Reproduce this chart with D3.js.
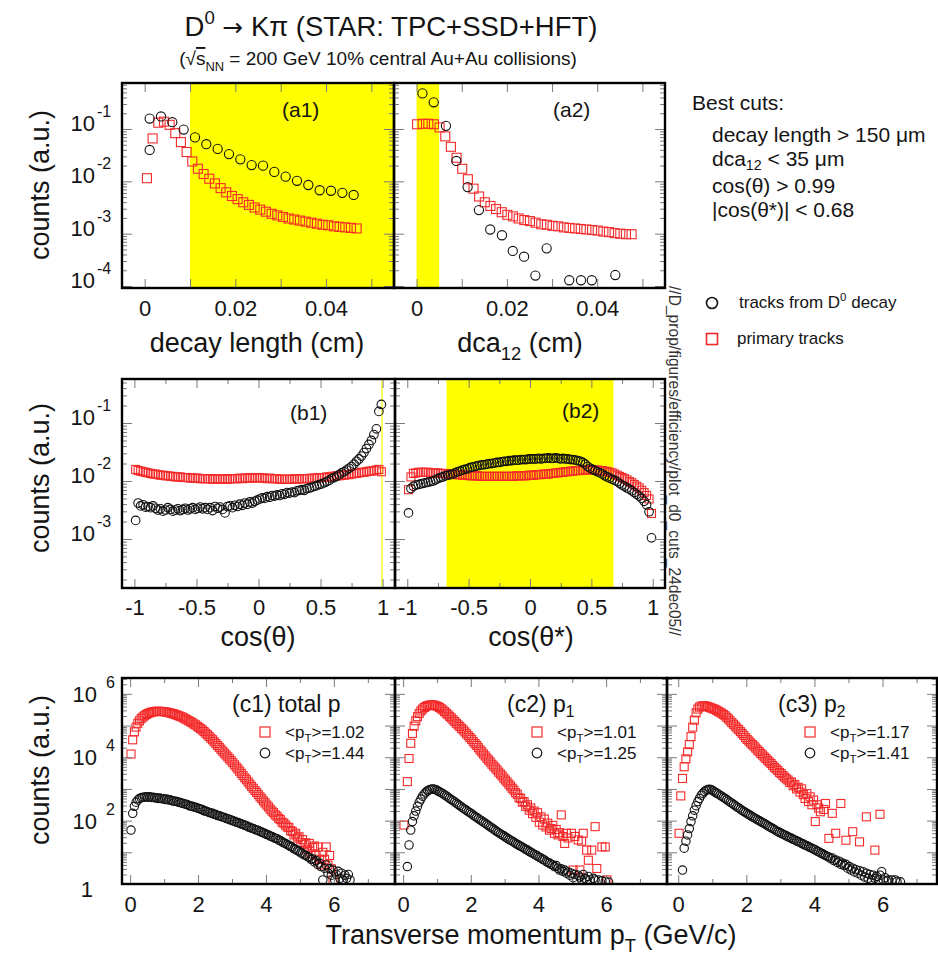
<!DOCTYPE html>
<html><head><meta charset="utf-8">
<script src="https://cdn.jsdelivr.net/npm/d3@7"></script>
<style>body{margin:0;background:#fff}</style>
</head><body>
<script>
// ---------------- DATA (log10 of counts) ----------------
// (a1) decay length [cm]
const a1CircX   = [0.0011,0.0011,0.0036,0.0061,0.0086,0.0111,0.0136,0.0161,0.0186,0.0211,0.0236,0.0261,0.0286,0.0311,0.0336,0.0361,0.0386,0.0411,0.0436,0.0461];
const a1CircLog = [-1.40,-0.80,-0.76,-0.87,-1.01,-1.16,-1.29,-1.38,-1.48,-1.58,-1.69,-1.70,-1.82,-1.91,-1.99,-2.07,-2.17,-2.18,-2.22,-2.26];
const a1SqBins  = {start:0.0005, step:0.00125};
const a1SqLog   = [-1.94,-1.18,-0.88,-0.86,-0.92,-1.08,-1.25,-1.44,-1.62,-1.76,-1.86,-1.95,-2.04,-2.13,-2.21,-2.28,-2.34,-2.40,-2.45,-2.50,-2.54,-2.58,-2.62,-2.65,-2.68,-2.71,-2.73,-2.75,-2.77,-2.79,-2.81,-2.83,-2.84,-2.86,-2.87,-2.88,-2.89,-2.90];
// (a2) dca12 [cm]
const a2CircX   = [0.0013,0.0038,0.0065,0.0088,0.0113,0.0138,0.0163,0.0189,0.0213,0.0238,0.0263,0.0288,0.0338,0.0364,0.0388,0.0440];
const a2CircLog = [-0.32,-0.49,-0.94,-1.61,-2.11,-2.55,-2.92,-3.03,-3.33,-3.44,-3.80,-3.28,-3.89,-3.89,-3.89,-3.79];
const a2SqBins  = {start:0.0001, step:0.00125};
const a2SqLog   = [-0.91,-0.90,-0.90,-0.91,-0.97,-1.14,-1.34,-1.55,-1.76,-1.96,-2.14,-2.29,-2.40,-2.47,-2.53,-2.59,-2.64,-2.67,-2.71,-2.74,-2.76,-2.79,-2.82,-2.83,-2.85,-2.86,-2.88,-2.89,-2.90,-2.91,-2.92,-2.93,-2.94,-2.96,-2.97,-2.99,-3.00,-3.01,-3.01];
// (b1) cos(theta), (b2) cos(theta*) : 100 bins in [-1,1]
const cosBins = {start:-0.99, step:0.02};
const b1SqLog = [-1.80,-1.82,-1.83,-1.84,-1.85,-1.86,-1.87,-1.88,-1.88,-1.89,
 -1.90,-1.90,-1.91,-1.91,-1.92,-1.92,-1.93,-1.93,-1.93,-1.94,
 -1.94,-1.94,-1.95,-1.95,-1.95,-1.95,-1.96,-1.96,-1.96,-1.96,
 -1.96,-1.97,-1.96,-1.97,-1.97,-1.96,-1.97,-1.97,-1.96,-1.96,
 -1.96,-1.96,-1.95,-1.96,-1.95,-1.95,-1.94,-1.95,-1.95,-1.94,
 -1.94,-1.95,-1.95,-1.96,-1.95,-1.96,-1.96,-1.96,-1.97,-1.97,
 -1.97,-1.97,-1.97,-1.97,-1.96,-1.97,-1.96,-1.96,-1.96,-1.96,
 -1.96,-1.95,-1.95,-1.95,-1.94,-1.94,-1.94,-1.93,-1.93,-1.92,
 -1.92,-1.91,-1.91,-1.90,-1.90,-1.89,-1.89,-1.88,-1.87,-1.87,
 -1.86,-1.85,-1.85,-1.84,-1.83,-1.83,-1.82,-1.81,-1.80,-1.84];
const b1CircLog = [-2.68,-2.38,-2.43,-2.41,-2.45,-2.44,-2.46,-2.43,-2.47,-2.50,
 -2.48,-2.52,-2.50,-2.46,-2.49,-2.52,-2.50,-2.48,-2.51,-2.49,
 -2.47,-2.50,-2.48,-2.46,-2.49,-2.47,-2.45,-2.48,-2.46,-2.49,
 -2.46,-2.51,-2.44,-2.47,-2.45,-2.49,-2.55,-2.44,-2.43,-2.46,
 -2.42,-2.44,-2.40,-2.42,-2.38,-2.40,-2.36,-2.38,-2.35,-2.33,
 -2.31,-2.29,-2.30,-2.27,-2.28,-2.25,-2.26,-2.24,-2.25,-2.22,
 -2.23,-2.20,-2.21,-2.19,-2.20,-2.17,-2.16,-2.15,-2.16,-2.13,
 -2.12,-2.11,-2.09,-2.08,-2.06,-2.05,-2.03,-2.01,-1.99,-1.96,
 -1.94,-1.92,-1.89,-1.86,-1.84,-1.81,-1.78,-1.75,-1.71,-1.66,
 -1.62,-1.57,-1.51,-1.44,-1.37,-1.30,-1.20,-1.10,-0.80,-0.68];
const b2SqLog = [-2.15,-1.93,-1.87,-1.86,-1.85,-1.85,-1.85,-1.85,-1.85,-1.86,
 -1.86,-1.86,-1.86,-1.87,-1.87,-1.87,-1.88,-1.88,-1.88,-1.89,
 -1.89,-1.89,-1.90,-1.90,-1.90,-1.91,-1.91,-1.91,-1.91,-1.92,
 -1.92,-1.92,-1.92,-1.92,-1.92,-1.92,-1.92,-1.92,-1.92,-1.92,
 -1.92,-1.92,-1.92,-1.92,-1.91,-1.91,-1.91,-1.91,-1.91,-1.90,
 -1.90,-1.90,-1.89,-1.89,-1.89,-1.88,-1.88,-1.88,-1.87,-1.87,
 -1.86,-1.86,-1.85,-1.85,-1.84,-1.84,-1.83,-1.83,-1.82,-1.82,
 -1.82,-1.81,-1.81,-1.81,-1.81,-1.81,-1.81,-1.81,-1.82,-1.82,
 -1.83,-1.84,-1.85,-1.86,-1.88,-1.90,-1.92,-1.94,-1.96,-1.98,
 -2.01,-2.03,-2.06,-2.09,-2.12,-2.16,-2.20,-2.25,-2.31,-2.56];
const b2CircLog = [-2.55,-2.13,-2.09,-2.07,-2.06,-2.05,-2.04,-2.03,-2.02,-2.01,
 -2.00,-1.98,-1.96,-1.94,-1.93,-1.91,-1.90,-1.89,-1.88,-1.86,
 -1.84,-1.83,-1.81,-1.80,-1.79,-1.77,-1.76,-1.75,-1.74,-1.73,
 -1.72,-1.72,-1.71,-1.70,-1.70,-1.69,-1.68,-1.68,-1.67,-1.66,
 -1.66,-1.65,-1.65,-1.64,-1.64,-1.64,-1.63,-1.63,-1.63,-1.62,
 -1.62,-1.62,-1.62,-1.61,-1.62,-1.61,-1.61,-1.60,-1.61,-1.61,
 -1.60,-1.61,-1.62,-1.61,-1.62,-1.62,-1.63,-1.63,-1.64,-1.65,
 -1.66,-1.68,-1.71,-1.75,-1.78,-1.80,-1.82,-1.84,-1.86,-1.88,
 -1.91,-1.93,-1.95,-1.97,-1.99,-2.01,-2.04,-2.07,-2.09,-2.12,
 -2.14,-2.17,-2.20,-2.23,-2.26,-2.30,-2.35,-2.41,-2.53,-2.98];
// (c) pT spectra [GeV/c], 0.05 GeV bins
const ptBins = {start:0.025, step:0.05};
const c1SqLog = [4.10,4.55,4.80,4.95,5.07,5.15,5.22,5.27,5.31,5.35,
 5.38,5.40,5.42,5.43,5.44,5.45,5.45,5.45,5.44,5.44,
 5.43,5.42,5.41,5.40,5.38,5.37,5.35,5.33,5.31,5.29,
 5.27,5.24,5.21,5.18,5.15,5.12,5.09,5.05,5.02,4.98,
 4.94,4.90,4.86,4.81,4.76,4.71,4.66,4.60,4.55,4.49,
 4.43,4.37,4.31,4.25,4.19,4.13,4.07,4.01,3.95,3.89,
 3.83,3.76,3.69,3.63,3.56,3.49,3.42,3.35,3.29,3.22,
 3.15,3.08,3.02,2.95,2.89,2.82,2.75,2.69,2.62,2.56,
 2.49,2.43,2.36,2.30,2.25,2.18,2.14,2.07,2.03,1.95,
 1.92,1.86,1.80,1.78,1.68,1.66,1.55,1.60,1.45,1.49,
 1.30,1.40,1.25,1.30,1.10,1.28,0.95,1.15,1.20,0.90,
 1.17,0.78,0.60,1.00,0.78,1.17,0.60,0.90,0.48,0.13];
const c1CircLog = [1.70,2.23,2.45,2.58,2.65,2.70,2.72,2.74,2.74,2.75,
 2.74,2.75,2.73,2.74,2.72,2.72,2.70,2.71,2.69,2.69,
 2.67,2.68,2.65,2.66,2.63,2.62,2.61,2.60,2.58,2.57,
 2.55,2.54,2.52,2.51,2.48,2.46,2.45,2.43,2.42,2.40,
 2.38,2.36,2.35,2.31,2.30,2.28,2.26,2.24,2.23,2.20,
 2.19,2.16,2.15,2.13,2.11,2.10,2.07,2.06,2.03,2.02,
 1.99,1.98,1.95,1.94,1.92,1.89,1.88,1.85,1.84,1.80,
 1.79,1.76,1.75,1.72,1.70,1.69,1.65,1.64,1.61,1.59,
 1.56,1.55,1.51,1.50,1.46,1.44,1.43,1.38,1.37,1.33,
 1.30,1.28,1.24,1.22,1.18,1.16,1.11,1.10,1.05,1.04,
 0.98,0.97,0.92,0.90,0.86,0.84,0.78,0.79,0.70,0.74,
 0.62,0.66,0.55,0.13,0.50,0.60,0.35,0.48,0.28,0.44,
 0.13,0.30,0.40,0.18,0.34,0.13,0.28,0.18,0.30,0.13];
const c2SqLog = [1.86,null,3.23,3.96,4.44,4.75,4.98,5.15,5.28,5.38,
 5.46,5.52,5.57,5.60,5.63,5.64,5.65,5.65,5.64,5.62,
 5.60,5.57,5.53,5.49,5.44,5.39,5.34,5.29,5.24,5.18,
 5.13,5.07,5.02,4.97,4.91,4.86,4.80,4.74,4.68,4.62,
 4.56,4.49,4.43,4.37,4.30,4.23,4.17,4.10,4.04,3.97,
 3.91,3.85,3.78,3.72,3.66,3.60,3.53,3.47,3.41,3.34,
 3.28,3.22,3.15,3.09,3.02,2.96,2.88,2.83,2.72,2.70,
 2.58,2.60,2.45,2.50,2.33,2.40,2.22,2.30,2.10,2.25,
 1.95,2.12,1.86,2.05,1.80,1.92,1.70,1.75,1.85,1.60,
 1.72,1.55,1.62,2.18,1.50,1.28,1.60,1.45,null,1.60,
 0.44,1.50,null,1.39,0.44,1.35,1.60,null,1.07,0.75,
 null,1.07,null,1.81,0.49,null,null,1.17,null,1.17,
 0.13];
const c2CircLog = [null,null,0.55,1.23,1.70,1.97,2.15,2.30,2.45,2.58,
 2.68,2.77,2.84,2.90,2.94,2.97,2.99,3.00,2.99,2.97,
 2.94,2.91,2.88,2.85,2.81,2.78,2.74,2.70,2.66,2.63,
 2.59,2.55,2.51,2.47,2.43,2.39,2.36,2.32,2.28,2.25,
 2.21,2.17,2.13,2.10,2.06,2.02,1.99,1.95,1.92,1.88,
 1.84,1.80,1.77,1.73,1.69,1.65,1.62,1.58,1.55,1.52,
 1.48,1.45,1.41,1.38,1.35,1.32,1.28,1.25,1.22,1.19,
 1.16,1.13,1.09,1.07,1.03,1.00,0.97,0.94,0.91,0.88,
 0.84,0.82,0.78,0.76,0.71,0.68,0.66,0.62,0.60,0.55,
 0.58,0.50,0.44,0.48,0.40,0.44,0.34,0.38,0.28,0.34,
 0.20,0.30,0.13,0.28,0.22,0.13,0.30,0.18,0.13,0.24,
 0.13,null,0.18,0.13,null,0.13,null,0.10,null,0.08,
 null,0.06];
const c3SqLog = [1.60,2.78,3.33,3.70,3.95,4.17,4.40,4.65,4.95,5.17,
 5.40,5.52,5.58,5.61,5.62,5.62,5.61,5.59,5.57,5.55,
 5.53,5.51,5.48,5.45,5.42,5.39,5.35,5.31,5.26,5.21,
 5.15,5.09,5.04,4.98,4.92,4.87,4.81,4.75,4.69,4.62,
 4.56,4.51,4.45,4.40,4.35,4.29,4.23,4.18,4.12,4.07,
 4.01,3.96,3.90,3.85,3.80,3.74,3.68,3.63,3.58,3.52,
 3.48,3.42,3.37,3.32,3.28,3.20,3.22,3.10,3.14,3.00,
 3.05,2.90,3.00,2.82,2.70,2.85,2.60,2.75,2.50,2.65,
 1.97,2.50,2.40,2.28,null,2.35,2.54,null,1.44,null,
 2.23,null,1.60,null,null,2.54,null,null,1.38,null,
 null,null,1.65,null,null,null,1.33,null,null,null,
 2.12,null,null,null,null,1.07,null,null,2.20];
const c3CircLog = [null,null,0.44,1.13,1.35,1.55,1.75,1.97,2.15,2.33,
 2.47,2.60,2.70,2.80,2.86,2.92,2.96,2.98,2.99,2.97,
 2.94,2.90,2.87,2.84,2.80,2.77,2.73,2.70,2.66,2.62,
 2.58,2.55,2.51,2.47,2.43,2.40,2.36,2.32,2.29,2.26,
 2.22,2.19,2.16,2.12,2.09,2.06,2.03,2.00,1.97,1.94,
 1.91,1.88,1.84,1.81,1.78,1.75,1.72,1.68,1.65,1.63,
 1.60,1.57,1.55,1.52,1.49,1.47,1.44,1.41,1.39,1.36,
 1.34,1.31,1.28,1.26,1.23,1.21,1.18,1.15,1.13,1.10,
 1.08,1.04,1.02,0.98,0.96,0.93,0.90,0.87,0.85,0.80,
 0.82,0.74,0.76,0.68,0.72,0.62,0.66,0.58,0.62,0.50,
 0.55,0.44,0.50,0.38,0.45,0.34,0.42,0.28,0.39,0.22,
 0.34,0.18,0.30,0.13,0.28,0.18,0.24,0.13,0.28,0.39,
 0.13,0.20,0.10,0.13,null,0.13,null,0.13,0.08,null,0.07];

// cut bands (yellow)
const cutA1 = [0.010, 0.055];
const cutA2 = [0.000, 0.005];
const cutB1 = [0.990, 1.000];
const cutB2 = [-0.68, 0.68];

// tick labels
const xTickA = [0, 0.02, 0.04];
const xTickB = [-1, -0.5, 0, 0.5, 1];
const xTickC = [0, 2, 4, 6];
const yDecA = [-1, -2, -3, -4];
const yDecB = [-1, -2, -3];
const yDecC = [0, 2, 4, 6];
const meanPtRed = ["1.02", "1.01", "1.17"];
const meanPtBlk = ["1.44", "1.25", "1.41"];
const bestCuts = ["decay length > 150 \u03bcm", "dca|12| < 35 \u03bcm", "cos(\u03b8) > 0.99", "|cos(\u03b8*)| < 0.68"];

// ---------------- DRAWING ----------------
const FONT = '"Liberation Sans", Arial, Helvetica, sans-serif';
const INK = '#141414';
const RED = '#f42a2a';
const W = 938, H = 958;
const svg = d3.select('body').append('svg').attr('width', W).attr('height', H);
svg.append('rect').attr('width', W).attr('height', H).attr('fill', '#fff');
const defs = svg.append('defs');
const e10 = v => Math.pow(10, v);

function binned(vals, bins) {
  return vals.map((v, i) => v == null ? null : [bins.start + bins.step * i, e10(v)]).filter(d => d);
}
function paired(xs, logs) { return xs.map((x, i) => [x, e10(logs[i])]); }

function txt(x, y, size, parts, anchor, subShift) {
  const t = svg.append('text').attr('x', x).attr('y', y).attr('font-size', size)
    .attr('font-family', FONT).attr('fill', INK).attr('text-anchor', anchor || 'start');
  let shift = 0;
  const sb = subShift == null ? 0.30 : subShift;
  parts.forEach(p => {
    const [s, k] = Array.isArray(p) ? p : [p, 'n'];
    const target = k === 'sup' ? -0.42 * size : k === 'sub' ? sb * size : 0;
    const ts = t.append('tspan').text(s).attr('dy', target - shift);
    shift = target;
    if (k === 'sup' || k === 'sub') ts.attr('font-size', size * 0.68);
    if (k === 'ov') ts.style('text-decoration', 'overline');
    if (k === 'arrow') ts.attr('font-family', '"DejaVu Sans", sans-serif').attr('font-size', size * 0.9);
  });
  return t;
}

function panel(p) {
  const x = d3.scaleLinear().domain(p.xd).range([p.x0, p.x1]);
  const y = d3.scaleLog().domain([e10(p.yd[0]), e10(p.yd[1])]).range([p.y1, p.y0]);
  const g = svg.append('g');
  defs.append('clipPath').attr('id', 'cl' + p.id).append('rect')
    .attr('x', p.x0).attr('y', p.y0).attr('width', p.x1 - p.x0).attr('height', p.y1 - p.y0);
  const inner = g.append('g').attr('clip-path', `url(#cl${p.id})`);
  if (p.band) inner.append('rect').attr('x', x(p.band[0])).attr('y', p.y0)
    .attr('width', x(p.band[1]) - x(p.band[0])).attr('height', p.y1 - p.y0).attr('fill', '#ffff00');
  const s = p.sq;
  inner.append('g').selectAll('rect').data(p.red).join('rect')
    .attr('x', d => x(d[0]) - s / 2).attr('y', d => y(d[1]) - s / 2).attr('width', s).attr('height', s)
    .attr('fill', 'none').attr('stroke', RED).attr('stroke-width', 1.1);
  inner.append('g').selectAll('circle').data(p.black).join('circle')
    .attr('cx', d => x(d[0])).attr('cy', d => y(d[1])).attr('r', p.r)
    .attr('fill', 'none').attr('stroke', '#111').attr('stroke-width', 1.1);

  // ticks on all four sides (inward)
  const ymaj = [], ymin = [];
  for (let e = Math.floor(p.yd[0]); e <= Math.ceil(p.yd[1]); e++) {
    if (e >= p.yd[0] && e <= p.yd[1]) ymaj.push(e10(e));
    for (let m = 2; m <= 9; m++) { const v = m * e10(e); if (v > e10(p.yd[0]) && v < e10(p.yd[1])) ymin.push(v); }
  }
  const tk = g.append('g');
  const add = (ax, tr) => tk.append('g').attr('transform', tr).call(ax)
    .call(a => a.select('.domain').remove())
    .call(a => a.selectAll('line').attr('stroke', '#7a7a7a').attr('stroke-width', 1));
  add(d3.axisLeft(y).tickValues(ymaj).tickSize(-10).tickFormat(''), `translate(${p.x0},0)`);
  add(d3.axisLeft(y).tickValues(ymin).tickSize(-5).tickFormat(''), `translate(${p.x0},0)`);
  add(d3.axisRight(y).tickValues(ymaj).tickSize(-10).tickFormat(''), `translate(${p.x1},0)`);
  add(d3.axisRight(y).tickValues(ymin).tickSize(-5).tickFormat(''), `translate(${p.x1},0)`);
  add(d3.axisBottom(x).tickValues(p.xMaj).tickSize(-9).tickFormat(''), `translate(0,${p.y1})`);
  add(d3.axisTop(x).tickValues(p.xMaj).tickSize(-9).tickFormat(''), `translate(0,${p.y0})`);
  if (p.xMin) {
    add(d3.axisBottom(x).tickValues(p.xMin).tickSize(-5).tickFormat(''), `translate(0,${p.y1})`);
    add(d3.axisTop(x).tickValues(p.xMin).tickSize(-5).tickFormat(''), `translate(0,${p.y0})`);
  }
  // x tick labels through a d3 axis
  g.append('g').attr('transform', `translate(0,${p.y1})`)
    .call(d3.axisBottom(x).tickValues(p.xLab).tickSize(0).tickPadding(p.xLabPad).tickFormat(p.xFmt))
    .call(a => a.select('.domain').remove())
    .call(a => a.selectAll('text').attr('font-family', FONT).attr('font-size', 22).attr('fill', INK));
  // y tick labels
  if (p.yLab) p.yLab.forEach(e => {
    const yy = y(e10(e));
    if (e === 0) { txt(p.yLabX - 4, yy + 13, 22, ['1'], 'end'); return; }
    txt(p.yLabX, yy + p.baseDy, 22, ['10'], 'end');
    txt(p.yLabX + p.supGap, yy + p.supDy, 16, [String(e)], 'start');
  });
  // frame
  g.append('rect').attr('x', p.x0).attr('y', p.y0).attr('width', p.x1 - p.x0).attr('height', p.y1 - p.y0)
    .attr('fill', 'none').attr('stroke', '#000').attr('stroke-width', 2.4);
  return {x, y};
}

const fmtA = d => d === 0 ? '0' : d3.format('.2f')(d);
const fmtB = d => d === 0 ? '0' : String(d);
const fmtC = d => String(d);
const rowA = {y0: 83, y1: 288, yd: [-4.038, -0.121], xd: [-0.005, 0.055], xMaj: [0, 0.01, 0.02, 0.03, 0.04, 0.05], xLab: xTickA, xFmt: fmtA, xLabPad: 12, sq: 9, r: 4.6};
const rowB = {y0: 379, y1: 588, yd: [-3.845, -0.241], xd: [-1.1, 1.1], xMaj: [-1, -0.5, 0, 0.5, 1], xMin: [-0.75, -0.25, 0.25, 0.75], xLab: xTickB, xFmt: fmtB, xLabPad: 11, sq: 8, r: 4.3};
const rowC = {y0: 678, y1: 884, yd: [0, 6.5], xd: [-0.24, 7.8], xMaj: [0, 2, 4, 6], xMin: [1, 3, 5, 7], xLab: xTickC, xFmt: fmtC, xLabPad: 12, sq: 8, r: 4.2};

panel({...rowA, id: 'a1', x0: 122, x1: 394, band: cutA1, red: binned(a1SqLog, a1SqBins), black: paired(a1CircX, a1CircLog), yLab: yDecA, yLabX: 95, supGap: 2, supDy: -12, baseDy: 2});
panel({...rowA, id: 'a2', x0: 394, x1: 665, band: cutA2, red: binned(a2SqLog, a2SqBins), black: paired(a2CircX, a2CircLog)});
panel({...rowB, id: 'b1', x0: 122, x1: 395, band: cutB1, red: binned(b1SqLog, cosBins), black: binned(b1CircLog, cosBins), yLab: yDecB, yLabX: 95, supGap: 2, supDy: -12, baseDy: 2});
panel({...rowB, id: 'b2', x0: 395, x1: 665, band: cutB2, red: binned(b2SqLog, cosBins), black: binned(b2CircLog, cosBins)});
panel({...rowC, id: 'c1', x0: 122, x1: 395, red: binned(c1SqLog, ptBins), black: binned(c1CircLog, ptBins), yLab: yDecC, yLabX: 97, supGap: 9, supDy: -6, baseDy: 8});
panel({...rowC, id: 'c2', x0: 395, x1: 667, red: binned(c2SqLog, ptBins), black: binned(c2CircLog, ptBins)});
panel({...rowC, id: 'c3', x0: 667, x1: 937, xd: [-0.33, 7.6], red: binned(c3SqLog, ptBins), black: binned(c3CircLog, ptBins)});

// ---------------- TEXT ----------------
txt(391, 36, 27.5, ['D', ['0', 'sup'], ' ', ['\u2192', 'arrow'], ' K\u03c0 (STAR: TPC+SSD+HFT)'], 'middle');
txt(378, 65, 19, ['(\u221a', ['s', 'ov'], ['NN', 'sub'], ' = 200 GeV 10% central Au+Au collisions)'], 'middle');

[185, 478, 770].forEach(cy => {
  txt(0, 0, 27, ['counts (a.u.)'], 'middle').attr('transform', `translate(49,${cy}) rotate(-90)`);
});
txt(257, 352, 27, ['decay length (cm)'], 'middle');
txt(520, 352, 27, ['dca', ['12', 'sub'], ' (cm)'], 'middle');
txt(258, 646, 27, ['cos(\u03b8)'], 'middle');
txt(531, 646, 27, ['cos(\u03b8*)'], 'middle');
txt(531, 944, 27, ['Transverse momentum p', ['T', 'sub'], ' (GeV/c)'], 'middle');

txt(282, 117, 21, ['(a1)']);
txt(553, 117, 21, ['(a2)']);
txt(290, 420, 21, ['(b1)']);
txt(562, 418, 21, ['(b2)']);
txt(232, 712, 23, ['(c1) total p']);
txt(507, 712, 23, ['(c2) p', ['1', 'sub']], 'start', 0.2);
txt(778, 712, 23, ['(c3) p', ['2', 'sub']], 'start', 0.2);

// c legends
[[265, 285], [537, 557], [810, 830]].forEach(([mx, tx], i) => {
  svg.append('rect').attr('x', mx - 5).attr('y', 732 - 5).attr('width', 10).attr('height', 10)
    .attr('fill', 'none').attr('stroke', RED).attr('stroke-width', 1.2);
  svg.append('circle').attr('cx', mx).attr('cy', 753).attr('r', 4.8)
    .attr('fill', 'none').attr('stroke', '#111').attr('stroke-width', 1.2);
  txt(tx, 738, 17, ['<p', ['T', 'sub'], '>=' + meanPtRed[i]], 'start', 0.22);
  txt(tx, 759, 17, ['<p', ['T', 'sub'], '>=' + meanPtBlk[i]], 'start', 0.22);
});

// best cuts
txt(692, 110, 21, ['Best cuts:']);
const cutY = [142, 166, 193, 217];
bestCuts.forEach((s, i) => {
  const parts = s.split('|');
  if (i === 1) txt(712, cutY[i], 21, [parts[0], [parts[1], 'sub'], parts[2]], 'start', 0.2);
  else txt(712, cutY[i], 21, [s]);
});

// right legend
svg.append('circle').attr('cx', 712).attr('cy', 303).attr('r', 5.5).attr('fill', 'none').attr('stroke', '#111').attr('stroke-width', 1.6);
txt(739, 308, 17, ['tracks from D', ['0', 'sup'], ' decay']);
svg.append('rect').attr('x', 706.5).attr('y', 333.5).attr('width', 11).attr('height', 11).attr('fill', 'none').attr('stroke', RED).attr('stroke-width', 1.6);
txt(737, 344, 17, ['primary tracks']);

// vertical file path
txt(0, 0, 15.6, ['//D_prop/figures/efficiency/plot_d0_cuts_24dec05//']).attr('fill', '#333')
  .attr('transform', 'translate(669,286) rotate(90)');
</script>
</body></html>
